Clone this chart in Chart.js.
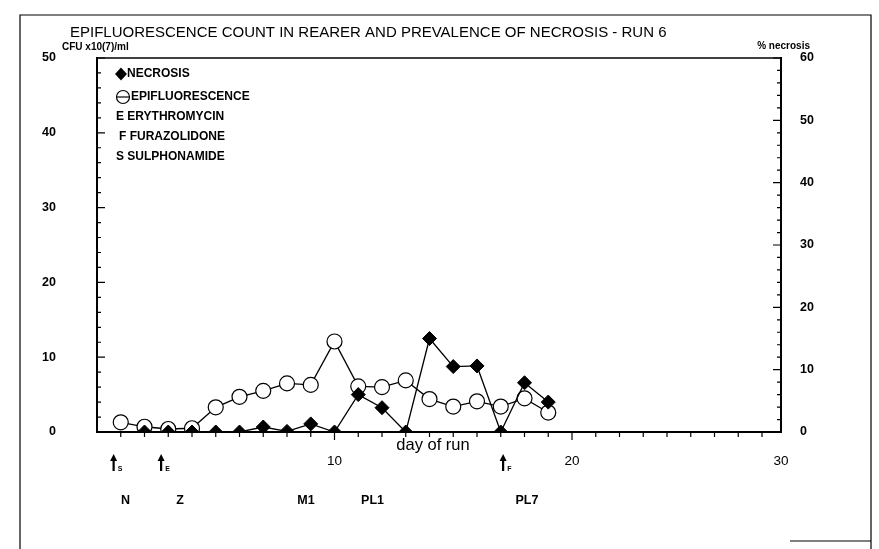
<!DOCTYPE html>
<html>
<head>
<meta charset="utf-8">
<script src="https://cdn.jsdelivr.net/npm/chart.js@4.4.1/dist/chart.umd.min.js"></script>
<style>
  html, body { margin: 0; padding: 0; background: #fff; }
  #wrap { position: relative; width: 879px; height: 549px; }
  canvas { display: block; }
</style>
</head>
<body>
<div id="wrap"><canvas id="c" width="879" height="549"></canvas></div>
<script>
// ---- data ----
const days = [1, 2, 3, 4, 5, 6, 7, 8, 9, 10, 11, 12, 13, 14, 15, 16, 17, 18, 19];
const epifluorescence = [1.3, 0.7, 0.4, 0.5, 3.3, 4.7, 5.5, 6.5, 6.3, 12.1, 6.1, 6.0, 6.9, 4.4, 3.4, 4.1, 3.4, 4.5, 2.6];
const necrosis = [null, 0, 0, 0, 0, 0, 0.8, 0.1, 1.3, 0, 6.0, 3.9, 0, 15.0, 10.5, 10.6, 0, 7.9, 4.8];
const xTickValues = [10, 20, 28.8];
const xTickLabels = ['10', '20', '30'];
const leftTicks = [0, 10, 20, 30, 40, 50];
const rightTicks = [0, 10, 20, 30, 40, 50, 60];
const titleText = 'EPIFLUORESCENCE COUNT IN REARER AND PREVALENCE OF NECROSIS - RUN 6';
const leftUnit = 'CFU x10(7)/ml';
const rightUnit = '% necrosis';
const xTitle = 'day of run';
const legendItems = ['NECROSIS', 'EPIFLUORESCENCE', 'E ERYTHROMYCIN', 'F FURAZOLIDONE', 'S SULPHONAMIDE'];
const arrowDays = [0.7, 2.7, 17.1];
const arrowLetters = ['S', 'E', 'F'];
const stageDays = [1.2, 3.5, 8.8, 11.6, 18.1];
const stageLabels = ['N', 'Z', 'M1', 'PL1', 'PL7'];

// ---- layout / style ----
const FONT = '"Liberation Sans", Arial, Helvetica, sans-serif';
const PLOT = { left: 97, right: 781, top: 58, bottom: 432 };
const W = 879, H = 549;

const points = (vals) => days.map((d, i) => ({ x: d, y: vals[i] }));

const decor = {
  id: 'decor',
  afterDraw(chart) {
    const ctx = chart.ctx;
    const xs = chart.scales.x, yl = chart.scales.yL, yr = chart.scales.yR;
    const ca = chart.chartArea;
    ctx.save();
    ctx.strokeStyle = '#000';
    ctx.fillStyle = '#000';

    // outer frame
    ctx.lineWidth = 1.2;
    ctx.beginPath();
    ctx.moveTo(20, H); ctx.lineTo(20, 15); ctx.lineTo(871, 15); ctx.lineTo(871, H);
    ctx.stroke();
    ctx.beginPath();
    ctx.moveTo(790, 541); ctx.lineTo(871, 541);
    ctx.stroke();

    // top frame line of plot
    ctx.lineWidth = 1.5;
    ctx.beginPath();
    ctx.moveTo(ca.left, ca.top); ctx.lineTo(ca.right, ca.top);
    ctx.stroke();

    // inward ticks
    ctx.lineWidth = 1.2;
    ctx.beginPath();
    for (let v = 0; v <= 50; v += 2) {
      const y = yl.getPixelForValue(v);
      const len = v % 10 === 0 ? 8 : 4;
      ctx.moveTo(ca.left, y); ctx.lineTo(ca.left + len, y);
    }
    for (let v = 0; v <= 60; v += 2) {
      const y = yr.getPixelForValue(v);
      const len = v % 10 === 0 ? 8 : 4;
      ctx.moveTo(ca.right, y); ctx.lineTo(ca.right - len, y);
    }
    for (let v = 1; v <= 28; v += 1) {
      const x = xs.getPixelForValue(v);
      const len = v % 10 === 0 ? 8 : 5;
      ctx.moveTo(x, ca.bottom); ctx.lineTo(x, ca.bottom + len);
    }
    ctx.stroke();

    // title
    ctx.textBaseline = 'middle';
    ctx.textAlign = 'left';
    ctx.font = '15px ' + FONT;
    ctx.fillText(titleText, 70, 33);

    // axis units
    ctx.font = 'bold 10px ' + FONT;
    ctx.fillText(leftUnit, 62, 47);
    ctx.textAlign = 'right';
    ctx.fillText(rightUnit, 810, 46);

    // x axis title
    ctx.textAlign = 'center';
    ctx.font = '16.5px ' + FONT;
    ctx.fillText(xTitle, (ca.left + ca.right) / 2 - 6, 445);

    // legend
    ctx.textAlign = 'left';
    ctx.font = 'bold 12px ' + FONT;
    const ly = [74, 97, 117, 137, 157];
    // diamond
    ctx.beginPath();
    ctx.moveTo(121, ly[0] - 6.5); ctx.lineTo(127, ly[0]); ctx.lineTo(121, ly[0] + 6.5); ctx.lineTo(115, ly[0]);
    ctx.closePath(); ctx.fill();
    ctx.fillText(legendItems[0], 127, ly[0]);
    // circle with bar
    ctx.lineWidth = 1.2;
    ctx.beginPath(); ctx.arc(123, ly[1], 6.5, 0, Math.PI * 2); ctx.stroke();
    ctx.beginPath(); ctx.moveTo(116.5, ly[1]); ctx.lineTo(129.5, ly[1]); ctx.stroke();
    ctx.fillText(legendItems[1], 131, ly[1]);
    ctx.fillText(legendItems[2], 116, ly[2]);
    ctx.fillText(legendItems[3], 119, ly[3]);
    ctx.fillText(legendItems[4], 116, ly[4]);

    // treatment arrows
    arrowDays.forEach((d, i) => {
      const x = xs.getPixelForValue(d);
      const yTop = 454, yBot = 471;
      ctx.lineWidth = 2.2;
      ctx.beginPath(); ctx.moveTo(x, yTop + 4); ctx.lineTo(x, yBot); ctx.stroke();
      ctx.beginPath();
      ctx.moveTo(x, yTop); ctx.lineTo(x - 3.5, yTop + 7); ctx.lineTo(x + 3.5, yTop + 7);
      ctx.closePath(); ctx.fill();
      ctx.font = 'bold 7px ' + FONT;
      ctx.textAlign = 'left';
      ctx.fillText(arrowLetters[i], x + 4, yBot - 2);
    });

    // stage labels
    ctx.font = 'bold 12.5px ' + FONT;
    ctx.textAlign = 'center';
    stageDays.forEach((d, i) => {
      ctx.fillText(stageLabels[i], xs.getPixelForValue(d), 501);
    });
    ctx.restore();
  }
};

new Chart(document.getElementById('c'), {
  type: 'line',
  data: {
    datasets: [
      {
        label: 'NECROSIS',
        data: points(necrosis),
        yAxisID: 'yR',
        borderColor: '#000',
        borderWidth: 1.3,
        pointStyle: 'rectRot',
        pointRadius: 7,
        pointBackgroundColor: '#000',
        pointBorderColor: '#000',
        pointBorderWidth: 1,
        spanGaps: false,
        order: 0
      },
      {
        label: 'EPIFLUORESCENCE',
        data: points(epifluorescence),
        yAxisID: 'yL',
        borderColor: '#000',
        borderWidth: 1.3,
        pointStyle: 'circle',
        pointRadius: 7.5,
        pointBackgroundColor: '#fff',
        pointBorderColor: '#000',
        pointBorderWidth: 1.2,
        order: 1
      }
    ]
  },
  options: {
    responsive: false,
    animation: false,
    devicePixelRatio: 1,
    layout: { padding: { top: PLOT.top, left: 0, right: 0, bottom: 0 } },
    plugins: {
      legend: { display: false },
      title: { display: false },
      tooltip: { enabled: false }
    },
    elements: { line: { tension: 0 } },
    scales: {
      x: {
        type: 'linear',
        min: 0,
        max: 28.8,
        grid: { display: false },
        border: { display: true, color: '#000', width: 2 },
        afterFit(s) { s.height = H - PLOT.bottom; },
        afterBuildTicks(s) { s.ticks = xTickValues.map(v => ({ value: v })); },
        ticks: {
          autoSkip: false,
          maxRotation: 0,
          padding: 13,
          color: '#000',
          font: { family: FONT, size: 13.5 },
          callback: (v) => { const i = xTickValues.indexOf(v); return i >= 0 ? xTickLabels[i] : ''; }
        }
      },
      yL: {
        type: 'linear',
        position: 'left',
        min: 0,
        max: 50,
        grid: { display: false },
        border: { display: true, color: '#000', width: 2 },
        afterFit(s) { s.width = PLOT.left; },
        afterBuildTicks(s) { s.ticks = leftTicks.map(v => ({ value: v })); },
        ticks: { padding: 33, color: '#000', font: { family: FONT, size: 12.5, weight: 'bold' } }
      },
      yR: {
        type: 'linear',
        position: 'right',
        min: 0,
        max: 60,
        grid: { display: false },
        border: { display: true, color: '#000', width: 2 },
        afterFit(s) { s.width = W - PLOT.right; },
        afterBuildTicks(s) { s.ticks = rightTicks.map(v => ({ value: v })); },
        ticks: { padding: 11, color: '#000', font: { family: FONT, size: 12.5, weight: 'bold' } }
      }
    }
  },
  plugins: [decor]
});
</script>
</body>
</html>
